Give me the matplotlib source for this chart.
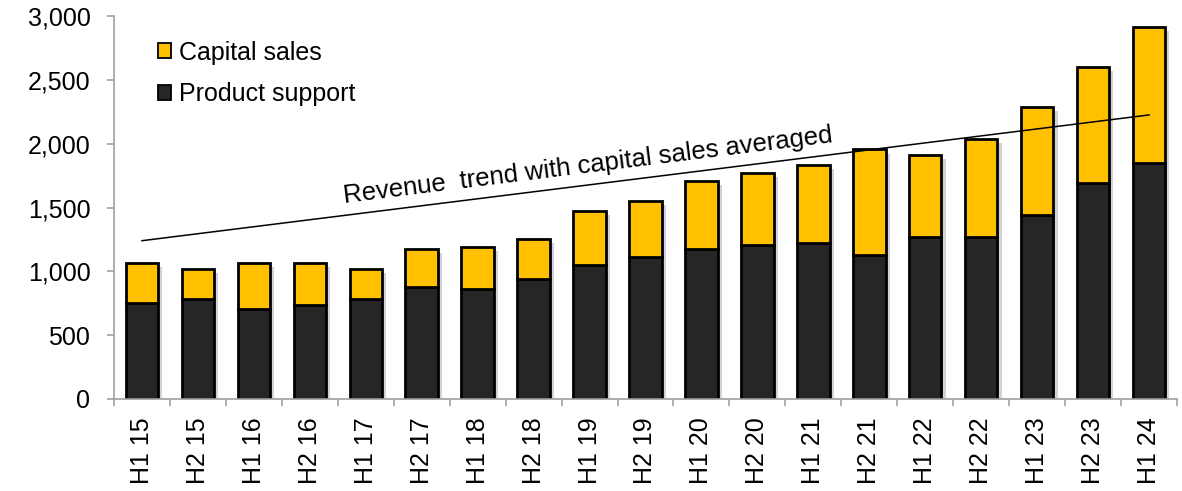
import matplotlib
matplotlib.use('Agg')
import matplotlib.pyplot as plt
import matplotlib.patheffects as pe
import numpy as np

plt.rcParams['font.family'] = ['Liberation Sans', 'DejaVu Sans']

periods = ['H1 15', 'H2 15', 'H1 16', 'H2 16', 'H1 17', 'H2 17', 'H1 18',
           'H2 18', 'H1 19', 'H2 19', 'H1 20', 'H2 20', 'H1 21', 'H2 21',
           'H1 22', 'H2 22', 'H1 23', 'H2 23', 'H1 24']
product_support = [755, 784, 705, 737, 784, 878, 862, 938, 1050, 1113, 1176,
                   1205, 1220, 1128, 1267, 1267, 1440, 1691, 1847]
total_revenue = [1066, 1016, 1066, 1066, 1016, 1173, 1188, 1252, 1471, 1549,
                 1706, 1769, 1831, 1955, 1910, 2035, 2286, 2600, 2913]
capital_sales = [t - p for t, p in zip(total_revenue, product_support)]

trend_x = [0, 18]
trend_y = [1240, 2225]
trend_label = 'Revenue  trend with capital sales averaged'

yellow = '#FFC000'
dark = '#262626'

fig = plt.figure(figsize=(11.82, 4.91), dpi=100)
ax = fig.add_axes([114 / 1182, 1 - 399 / 491, (1177 - 114) / 1182, (399 - 16) / 491])

x = np.arange(len(periods))

# drop shadow behind the whole stack
shadow = ax.bar(x, total_revenue, width=0.58, color='white', linewidth=0, zorder=1)
for bar in shadow:
    bar.set_path_effects([pe.SimplePatchShadow(offset=(3, -3), shadow_rgbFace='#808080', alpha=0.35)])

b1 = ax.bar(x, product_support, width=0.58, color=dark, edgecolor='black',
            linewidth=2, label='Product support', zorder=2)
b2 = ax.bar(x, capital_sales, bottom=product_support, width=0.58, color=yellow,
            edgecolor='black', linewidth=2, label='Capital sales', zorder=2)

ax.plot(trend_x, trend_y, color='black', linewidth=1.1, zorder=3)
ax.text(7.97, 1831, trend_label, rotation=7.1, ha='center', va='center',
        rotation_mode='anchor', fontsize=18.5)

ax.set_xlim(-0.5, 18.5)
ax.set_ylim(0, 3000)
ax.set_yticks(range(0, 3001, 500))
ax.set_yticklabels(['{:,}'.format(v) for v in range(0, 3001, 500)], fontsize=18)
ax.set_xticks(x)
ax.set_xticklabels(periods, rotation=90, fontsize=18)
ax.tick_params(axis='x', length=0, pad=13)
ax.set_xticks(np.arange(-0.5, 18.6, 1), minor=True)
ax.tick_params(axis='x', which='minor', length=5, color='#a0a0a0', width=1.2)
ax.tick_params(axis='y', length=5, color='#a0a0a0', width=1.2, pad=12)

for side in ['top', 'right']:
    ax.spines[side].set_visible(False)
for side in ['left', 'bottom']:
    ax.spines[side].set_color('#a0a0a0')
    ax.spines[side].set_linewidth(1.2)

handles = [b2, b1]
leg = ax.legend(handles, ['Capital sales', 'Product support'], loc='upper left',
                bbox_to_anchor=(0.027, 0.975), frameon=False, fontsize=18,
                handlelength=0.55, handleheight=0.55, handletextpad=0.3,
                labelspacing=0.7, borderaxespad=0.2)
for h in leg.legend_handles:
    h.set_linewidth(1.3)

fig.savefig('out.png', dpi=100)
